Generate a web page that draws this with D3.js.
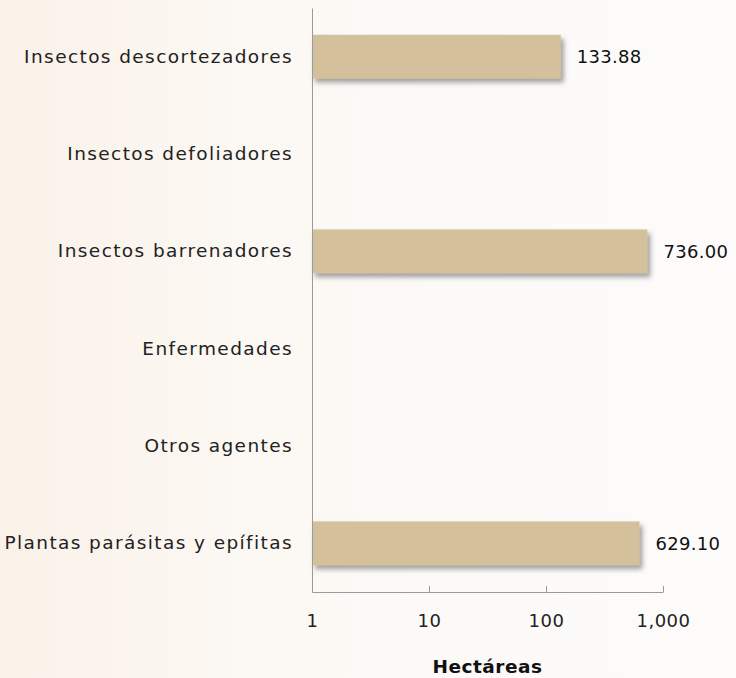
<!DOCTYPE html>
<html>
<head>
<meta charset="utf-8">
<script src="https://cdn.jsdelivr.net/npm/d3@7"></script>
<style>
  html, body { margin: 0; padding: 0; background: #fff; }
  #chart { width: 736px; height: 678px; }
</style>
</head>
<body>
<div id="chart"></div>
<script>
// Superficie afectada por agente (hectáreas) — null = sin dato
const categories = [
  "Insectos descortezadores",
  "Insectos defoliadores",
  "Insectos barrenadores",
  "Enfermedades",
  "Otros agentes",
  "Plantas parásitas y epífitas"
];
const values = [133.88, null, 736.00, null, null, 629.10];
const tickValues = [1, 10, 100, 1000];
const axisTitle = "Hectáreas";

const FONT = "'DejaVu Sans', sans-serif";
const W = 736, H = 678;
const margin = { top: 8, right: 73, bottom: 86, left: 312 };
const iW = W - margin.left - margin.right;
const iH = H - margin.top - margin.bottom;

const svg = d3.select("#chart").append("svg")
  .attr("width", W).attr("height", H)
  .style("font-family", FONT);

// faint beige watermark wash, stronger on the left
const defs = svg.append("defs");
const bg = defs.append("linearGradient").attr("id", "bg").attr("x1", 0).attr("x2", 1);
bg.append("stop").attr("offset", "0%").attr("stop-color", "#faf2e9");
bg.append("stop").attr("offset", "40%").attr("stop-color", "#fcf9f5");
bg.append("stop").attr("offset", "100%").attr("stop-color", "#fdfcfb");
svg.append("rect").attr("width", W).attr("height", H).attr("fill", "url(#bg)");

const shadow = defs.append("filter").attr("id", "shadow")
  .attr("x", "-5%").attr("y", "-20%").attr("width", "115%").attr("height", "160%");
shadow.append("feDropShadow")
  .attr("dx", 3).attr("dy", 4).attr("stdDeviation", 2.5)
  .attr("flood-color", "#555").attr("flood-opacity", 0.55);

const g = svg.append("g").attr("transform", `translate(${margin.left},${margin.top})`);

const x = d3.scaleLog().domain([1, 1000]).range([0, iW]);
const y = d3.scaleBand().domain(categories).range([0, iH]).paddingInner(0.55).paddingOuter(0.275);

const rows = categories.map((c, i) => ({ cat: c, v: values[i] }));

// bars
g.selectAll(".bar").data(rows.filter(d => d.v != null)).join("rect")
  .attr("x", 0)
  .attr("y", d => y(d.cat))
  .attr("width", d => x(d.v))
  .attr("height", y.bandwidth())
  .attr("fill", "#d4c19b")
  .attr("filter", "url(#shadow)");

// value labels
g.selectAll(".val").data(rows.filter(d => d.v != null)).join("text")
  .attr("x", d => x(d.v) + 16)
  .attr("y", d => y(d.cat) + y.bandwidth() / 2)
  .attr("dy", "0.36em")
  .attr("font-size", 18).attr("letter-spacing", 0.3).attr("fill", "#111")
  .text(d => d3.format(",.2f")(d.v));

// category axis (axis call resets font-family, so set it afterwards)
g.append("g")
  .call(d3.axisLeft(y).tickSize(0).tickPadding(19))
  .attr("font-family", FONT)
  .call(a => a.select(".domain").attr("stroke", "#9a9a9a"))
  .call(a => a.selectAll("text")
    .attr("font-size", 18.5).attr("letter-spacing", 1.4).attr("fill", "#222"));

// value axis
g.append("g")
  .attr("transform", `translate(0,${iH})`)
  .call(d3.axisBottom(x).tickValues(tickValues).tickSizeInner(-6).tickSizeOuter(0)
    .tickPadding(22).tickFormat(d3.format(",")))
  .attr("font-family", FONT)
  .call(a => a.select(".domain").attr("stroke", "#9a9a9a"))
  .call(a => a.selectAll(".tick line").attr("stroke", "#9a9a9a"))
  .call(a => a.selectAll("text")
    .attr("font-size", 18).attr("letter-spacing", 0.5).attr("fill", "#222"));

g.append("text")
  .attr("x", iW / 2)
  .attr("y", iH + 81)
  .attr("text-anchor", "middle")
  .attr("font-size", 18.5).attr("letter-spacing", 0.5)
  .attr("font-weight", "bold").attr("fill", "#111")
  .text(axisTitle);
</script>
</body>
</html>
